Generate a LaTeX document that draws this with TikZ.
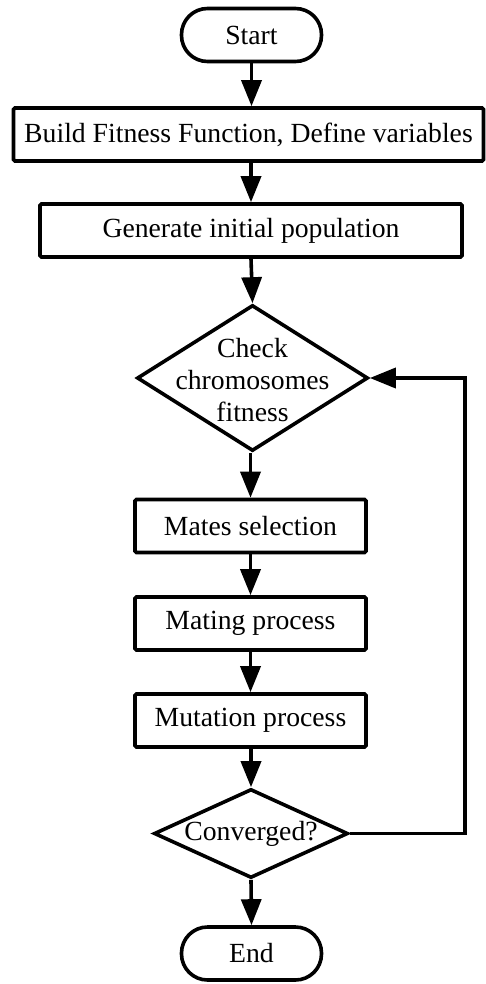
\documentclass[tikz,border=0pt]{standalone}
\usepackage{fontspec}
\setmainfont{Liberation Serif}
\usetikzlibrary{arrows.meta,shapes.geometric}
\begin{document}
\begin{tikzpicture}[x=1pt,y=-1pt,
  every node/.style={font=\fontsize{27.7}{32}\selectfont},
  lw/.style={line width=3.6pt},
  term/.style={lw,draw,rectangle,rounded corners=26pt,minimum width=140pt,minimum height=53pt,inner sep=0pt},
  proc/.style={lw,draw,rectangle,rounded corners=1.5pt,minimum height=53pt,inner sep=0pt},
  diam/.style={lw,draw,diamond,inner sep=0pt},
  flow/.style={lw,-{Triangle[length=26pt,width=20pt]}},
  txt/.style={align=center,inner sep=0pt}
]
\useasboundingbox (0,0) rectangle (486,984);
\node[term] (start) at (251.5,35) {Start};
\node[proc,minimum width=470pt] (build) at (248.5,134.5) {Build Fitness Function, Define variables};
\node[proc,minimum width=422pt] (gen) at (251,230.5) {Generate initial population};
\node[diam,minimum width=231pt,minimum height=146pt] (check) at (252.5,378) {};
\node[txt] (checkt) at (252.5,380) {Check\\chromosomes\\fitness};
\node[proc,minimum width=231pt] (mates) at (250.5,526) {Mates selection};
\node[proc,minimum width=231pt] (mating) at (250.5,623.5) {Mating process};
\node[proc,minimum width=231pt] (mut) at (250.5,720.5) {Mutation process};
\node[diam,minimum width=194pt,minimum height=89pt] (conv) at (251,833.5) {};
\node[txt] (convt) at (251,834) {Converged?};
\node[term] (end) at (251.5,953.5) {End};
\coordinate (fb) at (465,0);
\draw[flow] (start.south) -- (start.south |- build.north);
\draw[flow] (build.south -| gen.north) -- (gen.north);
\draw[flow] (gen.south) -- (check.north);
\draw[flow] (check.south -| mates.north) -- (mates.north);
\draw[flow] (mates.south) -- (mating.north);
\draw[flow] (mating.south) -- (mut.north);
\draw[flow] (mut.south -| conv.north) -- (conv.north);
\draw[flow] (conv.south) -- (end.north);
\draw[flow] (conv.east) -- (conv.east -| fb) -- (check.east -| fb) -- (check.east);
\end{tikzpicture}
\end{document}
